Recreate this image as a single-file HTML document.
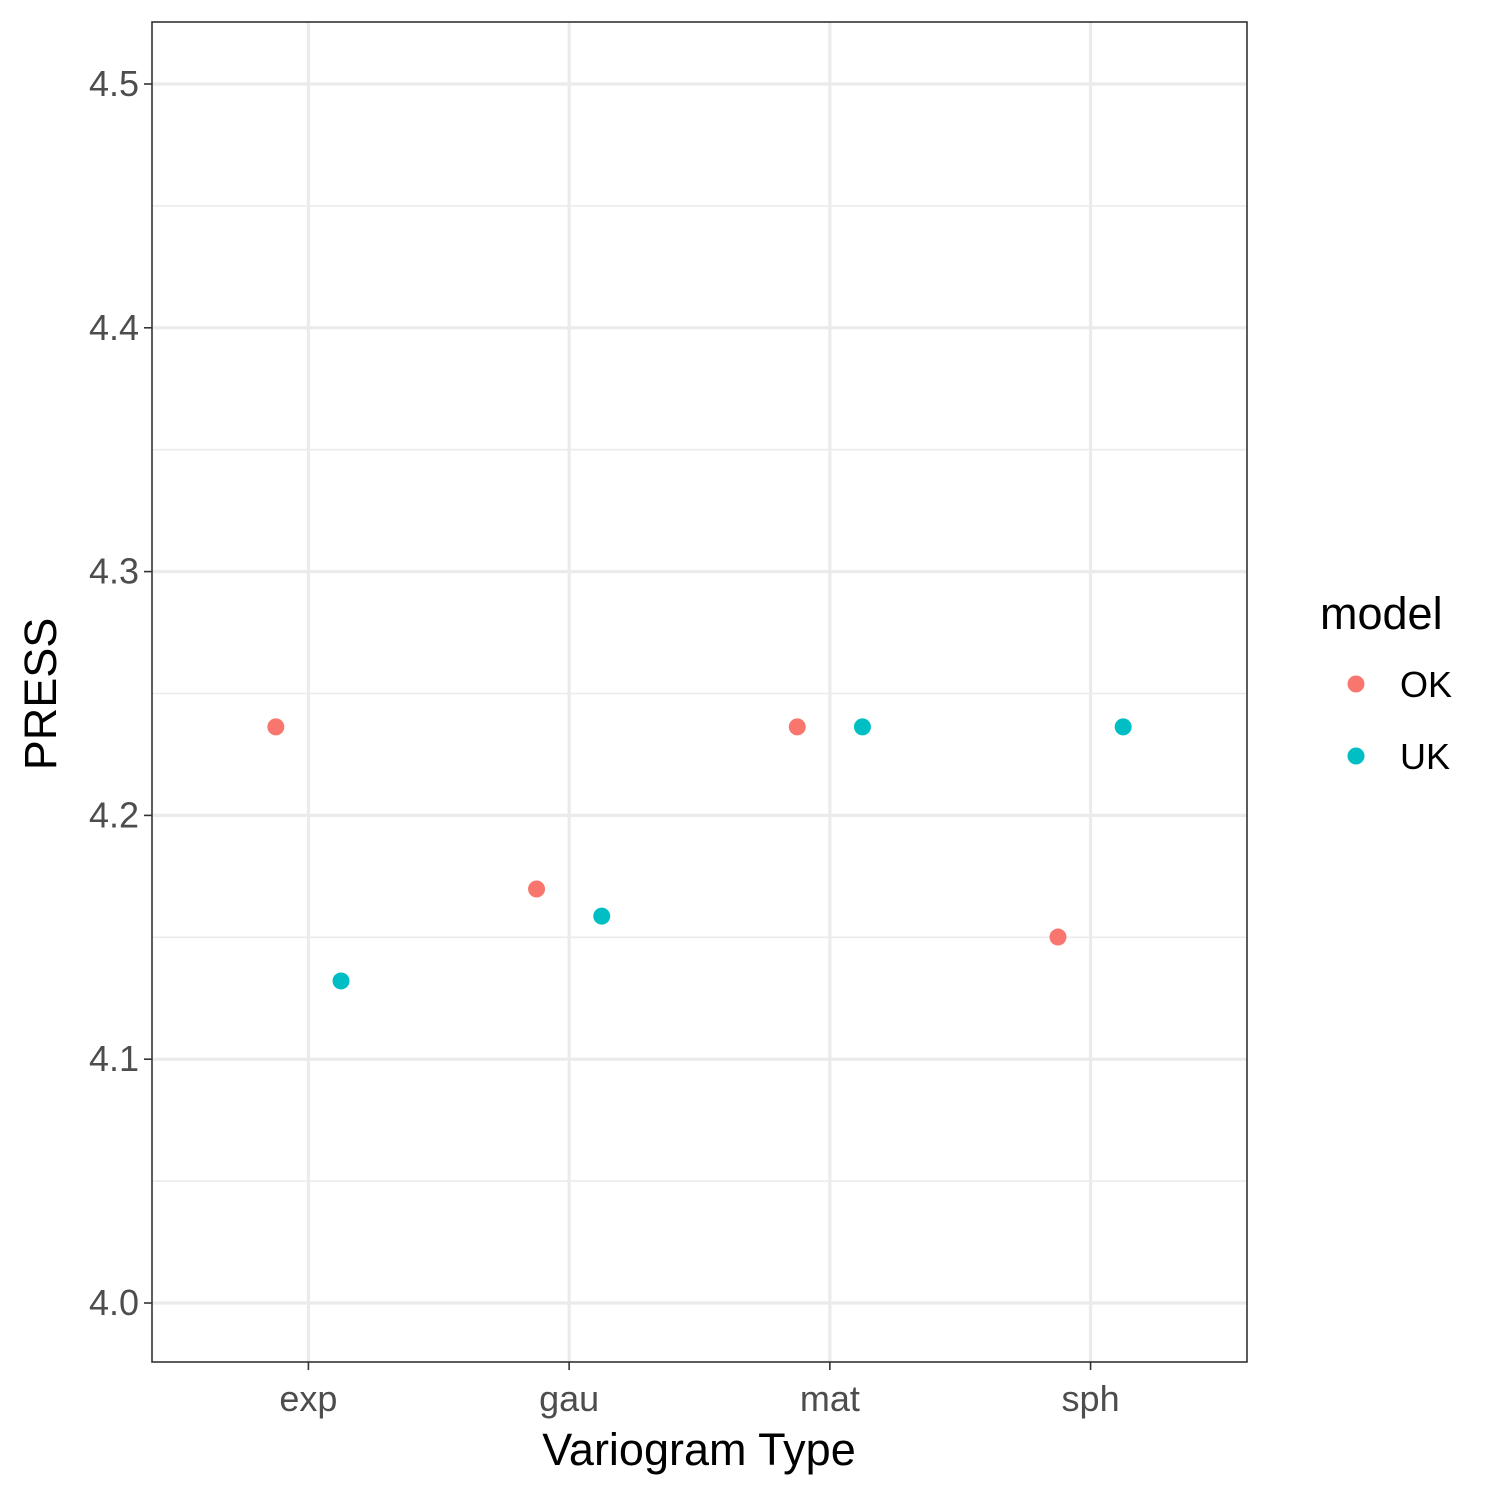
<!DOCTYPE html>
<html><head><meta charset="utf-8"><style>
body{margin:0;background:#fff;}
svg{display:block;font-family:"Liberation Sans",Arial,sans-serif;}
</style></head><body>
<svg id="chart" width="1500" height="1500" xmlns="http://www.w3.org/2000/svg"></svg>
<script>
const categories = ["exp","gau","mat","sph"];
const okValues = [4.2363, 4.1698, 4.2363, 4.1501];
const ukValues = [4.1321, 4.1587, 4.2363, 4.2363];
const yTicks = [4.0, 4.1, 4.2, 4.3, 4.4, 4.5];
const yTickLabels = ["4.0","4.1","4.2","4.3","4.4","4.5"];
const yMinor = [4.05, 4.15, 4.25, 4.35, 4.45];

const svg = document.getElementById('chart');
const NS = 'http://www.w3.org/2000/svg';
const L=152, R=1247, T=22, B=1362;
const step = (R-L)/(categories.length-1+1.2);
function xScale(i){ return L + step*(0.6+i); }
function yScale(v){ return 1303 - (v-4.0)*2438; }
function el(tag, attrs, parent){ const e=document.createElementNS(NS,tag); for(const k in attrs) e.setAttribute(k,attrs[k]); (parent||svg).appendChild(e); return e; }

const grid = el('g',{});


yMinor.forEach(v=>{ el('line',{x1:L,x2:R,y1:yScale(v),y2:yScale(v),stroke:'#ebebeb','stroke-width':1.6},grid); });
yTicks.forEach(v=>{ el('line',{x1:L,x2:R,y1:yScale(v),y2:yScale(v),stroke:'#ebebeb','stroke-width':3.2},grid); });
categories.forEach((c,i)=>{ el('line',{x1:xScale(i),x2:xScale(i),y1:T,y2:B,stroke:'#ebebeb','stroke-width':3.2},grid); });

const pts = el('g',{});


const dodge = step*0.125;
categories.forEach((c,i)=>{
  const a = el('circle',{cx:xScale(i)-dodge,cy:yScale(okValues[i]),r:8.5,fill:'#F8766D'},pts);
  
  
  const b = el('circle',{cx:xScale(i)+dodge,cy:yScale(ukValues[i]),r:8.5,fill:'#00BFC4'},pts);
  
  
});

const frame = el('rect',{x:L,y:T,width:R-L,height:B-T,fill:'none',stroke:'#333','stroke-width':1.6});



const yax = el('g',{});


yTicks.forEach((v,i)=>{
  el('line',{x1:L-8,x2:L,y1:yScale(v),y2:yScale(v),stroke:'#333','stroke-width':1.6},yax);
  const t = el('text',{x:L-13,y:yScale(v)+12,'text-anchor':'end','font-size':36,fill:'#4d4d4d'},yax);
  t.textContent = yTickLabels[i];
  
  
});
const xax = el('g',{});


categories.forEach((c,i)=>{
  el('line',{x1:xScale(i),x2:xScale(i),y1:B,y2:B+8,stroke:'#333','stroke-width':1.6},xax);
  const t = el('text',{x:xScale(i),y:1411,'text-anchor':'middle','font-size':36,fill:'#4d4d4d'},xax);
  t.textContent = c;
  
  
});
</script>
<svg width="1500" height="1500" style="position:absolute;left:0;top:0" xmlns="http://www.w3.org/2000/svg">
<text x="699" y="1465" text-anchor="middle" font-size="45" fill="#000" font-family="Liberation Sans, sans-serif">Variogram Type</text>
<text transform="translate(56,694) rotate(-90)" text-anchor="middle" font-size="45" fill="#000" font-family="Liberation Sans, sans-serif">PRESS</text>
<g font-family="Liberation Sans, sans-serif">
<text x="1320" y="629" font-size="45" fill="#000">model</text>
<circle cx="1356" cy="684" r="8.5" fill="#F8766D"/>
<text x="1400" y="697" font-size="36" fill="#000">OK</text>
<circle cx="1356" cy="756" r="8.5" fill="#00BFC4"/>
<text x="1400" y="769" font-size="36" fill="#000">UK</text>
</g>
</svg>
</body></html>
